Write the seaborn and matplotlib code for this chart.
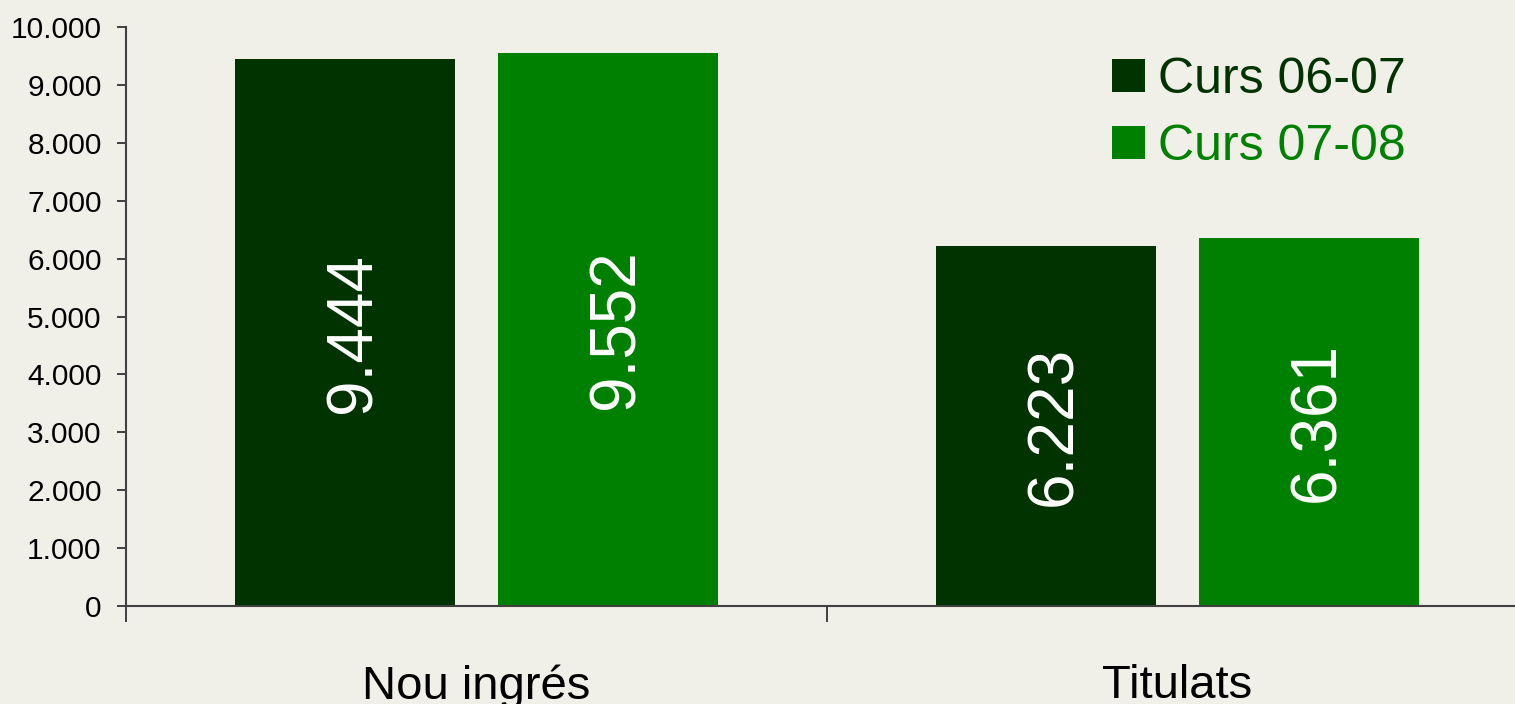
import matplotlib.pyplot as plt
import matplotlib.ticker as mticker
import pandas as pd
import seaborn as sns

# Data
categories = ['Nou ingrés', 'Titulats']
cursos = ['Curs 06-07', 'Curs 07-08']
curs_0607 = [9444, 6223]
curs_0708 = [9552, 6361]
y_ticks = [0, 1000, 2000, 3000, 4000, 5000, 6000, 7000, 8000, 9000, 10000]

colors = ['#003300', '#008000']
bg = '#f0f0e9'
axis_col = '#404040'

df = pd.DataFrame({
    'categoria': categories * 2,
    'curs': [cursos[0]] * len(categories) + [cursos[1]] * len(categories),
    'valor': curs_0607 + curs_0708,
})


def dot_thousands(v):
    return f'{int(round(v)):,}'.replace(',', '.')


sns.set_theme(style='white')
plt.rcParams['font.family'] = ['Liberation Sans', 'DejaVu Sans']

fig = plt.figure(figsize=(15.15, 7.04), dpi=100, facecolor=bg)
# axes runs past the right edge of the figure, as in the reference
ax = fig.add_axes([126 / 1515, 98 / 704, 1402 / 1515, 579 / 704])
ax.set_facecolor('none')

sns.barplot(data=df, x='categoria', y='valor', hue='curs', palette=colors,
            saturation=1, width=0.75, gap=0.163, linewidth=0, ax=ax)

# Value labels inside the bars (nudged a bit right like the original)
for cont in ax.containers:
    labels = [dot_thousands(b.get_height()) for b in cont]
    anns = ax.bar_label(cont, labels=labels, label_type='center', rotation=90,
                        color='white', fontsize=46)
    for a in anns:
        a.xyann = (6, 0)

ax.set_xlim(-0.5, 1.5)
ax.set_ylim(0, 10000)
ax.set_yticks(y_ticks)
ax.yaxis.set_major_formatter(mticker.FuncFormatter(lambda v, p: dot_thousands(v)))
ax.set_xlabel('')
ax.set_ylabel('')

ax.tick_params(axis='y', which='major', left=True, length=6.5, width=1.4,
               color=axis_col, labelsize=21.5, labelcolor='black', pad=11)
ax.tick_params(axis='x', which='major', bottom=False, length=0,
               labelsize=34, labelcolor='black', pad=42)
ax.set_xticks([-0.5, 0.5, 1.5], minor=True)
ax.tick_params(axis='x', which='minor', bottom=True, length=11.5, width=1.4,
               color=axis_col)

for side in ['top', 'right']:
    ax.spines[side].set_visible(False)
for side in ['left', 'bottom']:
    ax.spines[side].set_color(axis_col)
    ax.spines[side].set_linewidth(1.5)

handles, labels = ax.get_legend_handles_labels()
ax.legend(handles, labels, loc='upper left',
          bbox_to_anchor=(1112 / 1515, 1 - 57 / 704),
          bbox_transform=fig.transFigure, frameon=False, fontsize=36,
          labelcolor=colors, handlelength=0.66, handleheight=0.66,
          handletextpad=0.26, labelspacing=0.42, borderpad=0, borderaxespad=0)

fig.savefig('out.png', dpi=100, facecolor=bg)
